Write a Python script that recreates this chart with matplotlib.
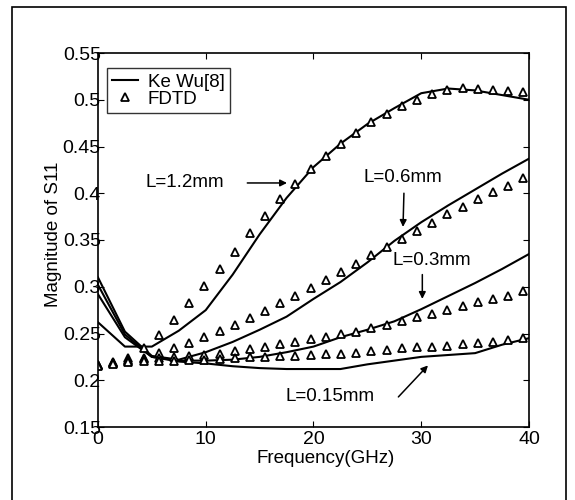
import matplotlib
matplotlib.use("Agg")
import matplotlib.pyplot as plt
from matplotlib.patches import Rectangle

plt.rcParams['font.family'] = ['Liberation Sans', 'DejaVu Sans']

# Ke Wu[8] reference curves, sampled every 2.5 GHz
f_ref = [0, 2.5, 5, 7.5, 10, 12.5, 15, 17.5, 20, 22.5, 25, 27.5, 30, 32.5, 35, 37.5, 40]
ref_12 = [0.262, 0.236, 0.236, 0.253, 0.275, 0.313, 0.356, 0.395, 0.428, 0.453, 0.474,
          0.491, 0.507, 0.512, 0.510, 0.505, 0.500]
ref_06 = [0.310, 0.252, 0.226, 0.222, 0.230, 0.241, 0.254, 0.268, 0.287, 0.305, 0.326,
          0.349, 0.369, 0.387, 0.404, 0.421, 0.437]
ref_03 = [0.302, 0.249, 0.225, 0.221, 0.221, 0.222, 0.225, 0.230, 0.236, 0.246, 0.254,
          0.263, 0.276, 0.290, 0.304, 0.319, 0.335]
ref_015 = [0.292, 0.246, 0.225, 0.220, 0.218, 0.215, 0.213, 0.212, 0.212, 0.212, 0.217,
           0.221, 0.225, 0.227, 0.229, 0.238, 0.245]

# FDTD results
f_fdtd = [0.0, 1.41, 2.82, 4.23, 5.64, 7.05, 8.46, 9.87, 11.28, 12.69, 14.1, 15.51, 16.92,
          18.33, 19.74, 21.15, 22.56, 23.97, 25.38, 26.79, 28.2, 29.61, 31.02, 32.43,
          33.84, 35.25, 36.66, 38.07, 39.48]
fdtd_12 = [0.216, 0.219, 0.224, 0.234, 0.248, 0.264, 0.283, 0.301, 0.319, 0.337, 0.357,
           0.376, 0.394, 0.410, 0.426, 0.440, 0.453, 0.464, 0.476, 0.485, 0.493, 0.500,
           0.506, 0.510, 0.513, 0.512, 0.510, 0.509, 0.508]
fdtd_06 = [0.216, 0.218, 0.222, 0.224, 0.229, 0.235, 0.240, 0.246, 0.253, 0.259, 0.267,
           0.274, 0.283, 0.290, 0.299, 0.307, 0.316, 0.324, 0.334, 0.343, 0.351, 0.360,
           0.368, 0.378, 0.385, 0.394, 0.401, 0.408, 0.416]
fdtd_03 = [0.216, 0.218, 0.221, 0.223, 0.224, 0.225, 0.226, 0.227, 0.228, 0.231, 0.233,
           0.236, 0.239, 0.241, 0.244, 0.246, 0.249, 0.252, 0.256, 0.259, 0.263, 0.268,
           0.271, 0.275, 0.279, 0.284, 0.287, 0.290, 0.295]
fdtd_015 = [0.215, 0.217, 0.220, 0.221, 0.221, 0.221, 0.222, 0.222, 0.223, 0.224, 0.225,
            0.225, 0.226, 0.226, 0.227, 0.228, 0.228, 0.229, 0.231, 0.232, 0.234, 0.236,
            0.236, 0.237, 0.239, 0.240, 0.241, 0.243, 0.245]

xticks = [0, 10, 20, 30, 40]
yticks = [0.15, 0.2, 0.25, 0.3, 0.35, 0.4, 0.45, 0.5, 0.55]
ytick_labels = ['0.15', '0.2', '0.25', '0.3', '0.35', '0.4', '0.45', '0.5', '0.55']

fig = plt.figure(figsize=(5.75, 5.0), dpi=100)
fig.patches.append(Rectangle((0.021, -0.05), 0.963, 1.036, transform=fig.transFigure,
                             fill=False, edgecolor='black', linewidth=1.2))
ax = fig.add_axes([0.1704, 0.146, 0.7496, 0.748])

for i, ys in enumerate([ref_12, ref_06, ref_03, ref_015]):
    ax.plot(f_ref, ys, color='black', linewidth=1.5,
            label='Ke Wu[8]' if i == 0 else None)
for i, ys in enumerate([fdtd_12, fdtd_06, fdtd_03, fdtd_015]):
    ax.plot(f_fdtd, ys, linestyle='none', marker='^', markersize=5.5,
            markerfacecolor='white', markeredgecolor='black', markeredgewidth=1.3,
            label='FDTD' if i == 0 else None)

ax.set_xlim(0, 40)
ax.set_ylim(0.15, 0.55)
ax.set_xticks(xticks)
ax.set_yticks(yticks)
ax.set_yticklabels(ytick_labels)
ax.tick_params(direction='in', top=True, right=True, length=4, labelsize=14)
ax.tick_params(axis='y', pad=-2)
ax.tick_params(axis='x', pad=3)
ax.set_xlabel('Frequency(GHz)', fontsize=13.5)
ax.set_ylabel('Magnitude of S11', fontsize=13.5)
ax.xaxis.set_label_coords(0.529, -0.061)
ax.yaxis.set_label_coords(-0.083, 0.516)
for s in ax.spines.values():
    s.set_linewidth(1.2)

leg = ax.legend(loc='upper left', bbox_to_anchor=(0.02, 0.96), fontsize=13.5,
                frameon=True, fancybox=False, edgecolor='black', handlelength=1.4,
                borderpad=0.3, labelspacing=0.0, handletextpad=0.5, borderaxespad=0)
leg.get_frame().set_linewidth(1.0)

arrow = dict(arrowstyle='-|>', color='black', linewidth=1.1, mutation_scale=10)
ax.annotate('', xy=(17.8, 0.411), xytext=(13.6, 0.411), arrowprops=arrow)
ax.text(4.4, 0.411, 'L=1.2mm', fontsize=13.5, va='center', ha='left')

ax.text(28.3, 0.417, 'L=0.6mm', fontsize=13.5, va='center', ha='center')
ax.annotate('', xy=(28.3, 0.361), xytext=(28.4, 0.403), arrowprops=arrow)

ax.text(31.0, 0.328, 'L=0.3mm', fontsize=13.5, va='center', ha='center')
ax.annotate('', xy=(30.1, 0.284), xytext=(30.1, 0.316), arrowprops=arrow)

ax.text(17.4, 0.183, 'L=0.15mm', fontsize=13.5, va='center', ha='left')
ax.annotate('', xy=(30.8, 0.218), xytext=(27.7, 0.180), arrowprops=arrow)

fig.savefig('out.png', dpi=100)
